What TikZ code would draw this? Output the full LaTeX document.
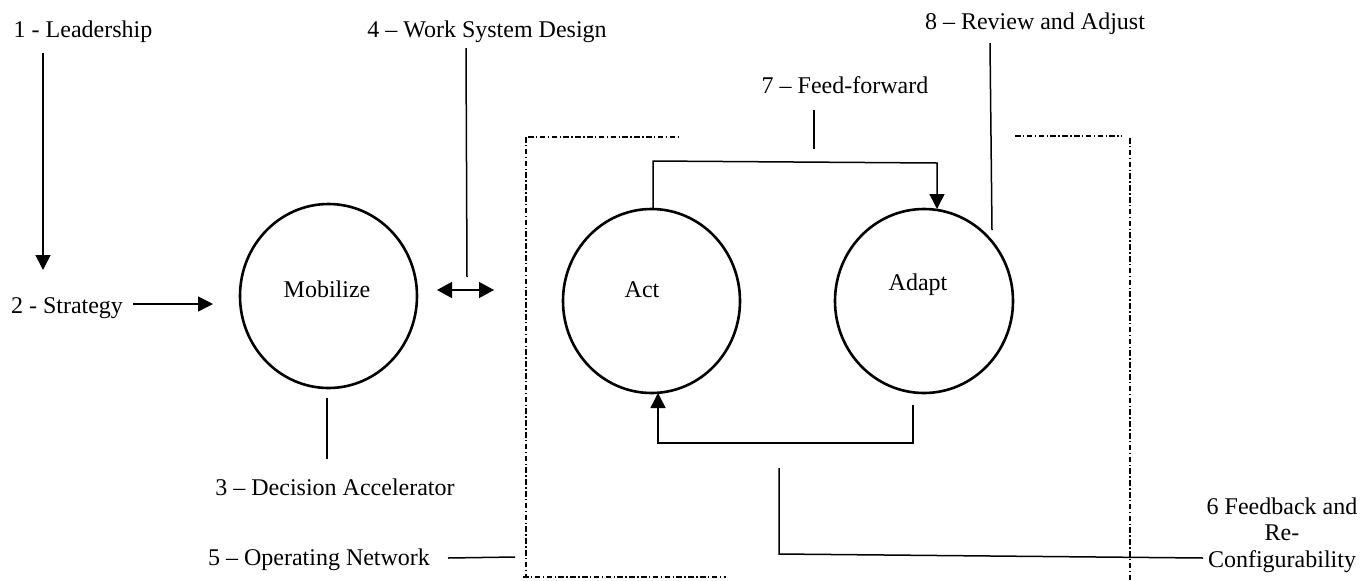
\documentclass[tikz,border=0pt]{standalone}
\usepackage{fontspec}
\setmainfont{Liberation Serif}
\usetikzlibrary{arrows.meta,shapes.geometric}
\begin{document}
\begin{tikzpicture}[x=0.5pt,y=-0.5pt,
  font=\fontsize{12}{13.25}\selectfont,
  txt/.style={inner sep=0pt, anchor=base},
  blob/.style={draw, line width=1.3pt, ellipse, inner sep=0pt},
  conn/.style={line width=0.75pt},
  arr/.style={conn, -{Triangle[length=7.5pt,width=7.5pt]}},
  darr/.style={conn, {Triangle[length=7.5pt,width=8pt]}-{Triangle[length=7.5pt,width=8pt]}},
  dd/.style={line width=0.65pt, dash pattern=on 2.8pt off 1.2pt on 0.7pt off 1.2pt}]
\useasboundingbox (0,0) rectangle (1372,580);

% circles
\node[blob, minimum width=88.5pt, minimum height=92pt] (mob) at (328.5,296) {};
\node[blob, minimum width=88.5pt, minimum height=92pt] (act) at (651.5,301) {};
\node[blob, minimum width=89pt, minimum height=92pt] (adapt) at (924,301) {};
\node[txt] (mobt) at (327,297) {Mobilize};
\node[txt] (actt) at (642,297) {Act};
\node[txt] (adaptt) at (918,290) {Adapt};

% labels
\node[txt] (lead) at (83,37) {1 - Leadership};
\node[txt] (strat) at (67,313) {2 - Strategy};
\node[txt] (dec) at (335,495) {3 – Decision Accelerator};
\node[txt] (wsd) at (487,37) {4 – Work System Design};
\node[txt] (opn) at (319,565) {5 – Operating Network};
\node[txt] (ff) at (845,93) {7 – Feed-forward};
\node[txt] (rev) at (1035,29) {8 – Review and Adjust};
\node[inner sep=0pt, align=center] (fb) at (1282,535) {6 Feedback and\\Re-\\Configurability};

% coordinates
\coordinate (l1a) at (43,53);
\coordinate (l1b) at (43,270);
\coordinate (s1a) at (133,304);
\coordinate (s1b) at (213,304);
\coordinate (d1a) at (327,398);
\coordinate (d1b) at (327,459);
\coordinate (w1a) at (466,48);
\coordinate (w1b) at (467,277);
\coordinate (w2a) at (437,290);
\coordinate (w2b) at (494,290);
\coordinate (o1a) at (448,558);
\coordinate (o1b) at (515,557);
\coordinate (ffa) at (653,209);
\coordinate (ffb) at (937,209);
\coordinate (ffc) at (814,110);
\coordinate (ffd) at (814,149);
\coordinate (fba) at (913,405);
\coordinate (fbb) at (658,393);
\coordinate (fbc) at (779,468);
\coordinate (fbd) at (1203,558);
\coordinate (rva) at (990,43);
\coordinate (rvb) at (992,230);

% connectors
\draw[arr] (l1a) -- (l1b);
\draw[arr] (s1a) -- (s1b);
\draw[conn] (d1a) -- (d1b);
\draw[conn] (w1a) -- (w1b);
\draw[darr] (w2a) -- (w2b);
\draw[conn] (o1a) -- (o1b);
\draw[arr] (ffa) -- (653,161) -- (937,163) -- (ffb);
\draw[conn] (ffc) -- (ffd);
\draw[arr] (fba) -- (913,443) -- (658,443) -- (fbb);
\draw[conn] (fbc) -- (779,554) -- (fbd);
\draw[conn] (rva) -- (rvb);

% dash-dot frame (operating network)
\draw[dd] (528,137) -- (678,137);
\draw[dd] (526,137) -- (526,578);
\draw[dd] (523,577) -- (726,577);
\draw[dd] (1015,136) -- (1122,136);
\draw[dd] (1130,138) -- (1130,580);
\end{tikzpicture}
\end{document}
